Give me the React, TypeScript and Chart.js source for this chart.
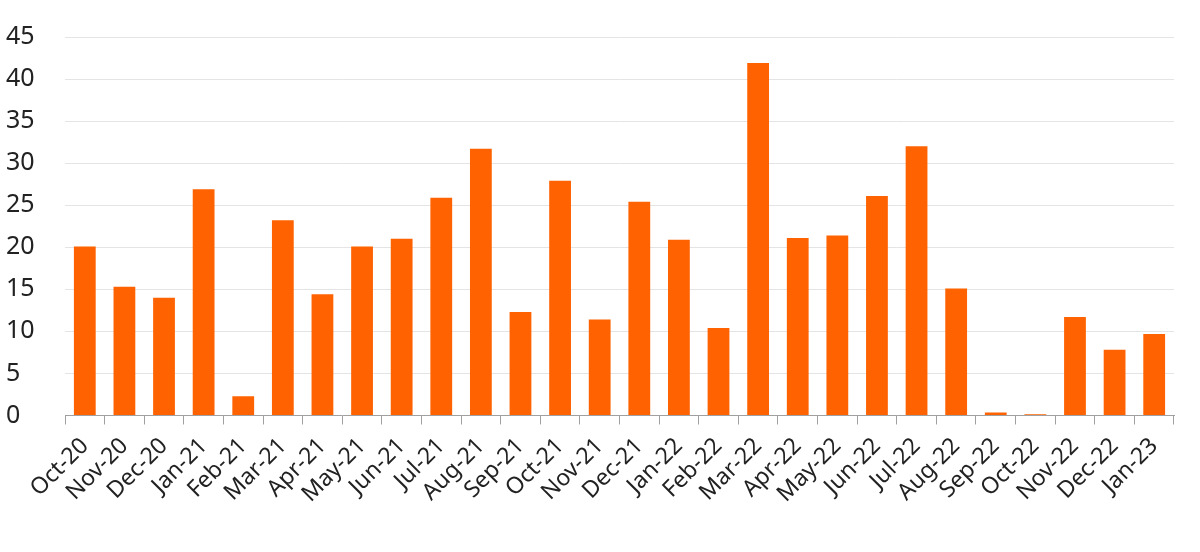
import { useEffect, useRef } from 'react';
import { Chart, registerables } from 'chart.js';

Chart.register(...registerables);

const months = [
  'Oct-20', 'Nov-20', 'Dec-20', 'Jan-21', 'Feb-21', 'Mar-21', 'Apr-21',
  'May-21', 'Jun-21', 'Jul-21', 'Aug-21', 'Sep-21', 'Oct-21', 'Nov-21',
  'Dec-21', 'Jan-22', 'Feb-22', 'Mar-22', 'Apr-22', 'May-22', 'Jun-22',
  'Jul-22', 'Aug-22', 'Sep-22', 'Oct-22', 'Nov-22', 'Dec-22', 'Jan-23',
];

const values = [
  20.1, 15.3, 14.0, 26.9, 2.3, 23.2, 14.4,
  20.1, 21.0, 25.9, 31.7, 12.3, 27.9, 11.4,
  25.4, 20.9, 10.4, 41.9, 21.1, 21.4, 26.1,
  32.0, 15.1, 0.35, 0.15, 11.7, 7.8, 9.7,
];

const yMin = 0;
const yMax = 45;
const yStep = 5;

const App = () => {
  const chartRef = useRef<HTMLCanvasElement>(null);
  const chartInstance = useRef<Chart | null>(null);

  useEffect(() => {
    if (!chartRef.current) return;
    if (chartInstance.current) chartInstance.current.destroy();

    const ctx = chartRef.current.getContext('2d');
    if (!ctx) return;

    chartInstance.current = new Chart(ctx, {
      type: 'bar',
      data: {
        labels: months,
        datasets: [{
          data: values,
          backgroundColor: '#FF6200',
          borderWidth: 0,
          barPercentage: 0.55,
          categoryPercentage: 1,
        }],
      },
      options: {
        responsive: true,
        maintainAspectRatio: false,
        animation: false,
        layout: { padding: { top: 37, right: 26, bottom: 36, left: 6 } },
        plugins: {
          legend: { display: false },
          tooltip: { enabled: false },
        },
        scales: {
          x: {
            grid: {
              display: true,
              drawOnChartArea: false,
              drawTicks: true,
              tickLength: 9,
              color: '#a0a0a0',
              offset: true,
            },
            border: { display: true, color: '#a0a0a0', width: 1 },
            ticks: {
              color: '#222',
              font: { family: 'Noto Sans', size: 23 },
              maxRotation: 45,
              minRotation: 45,
              autoSkip: false,
              padding: 8,
            },
          },
          y: {
            min: yMin,
            max: yMax,
            afterFit: (scale) => {
              scale.width = 59;
            },
            grid: {
              color: '#e4e4e4',
              drawTicks: false,
              lineWidth: 1,
            },
            border: { display: false },
            ticks: {
              stepSize: yStep,
              color: '#222',
              font: { family: 'Noto Sans', size: 25 },
              crossAlign: 'far',
              padding: 3,
            },
          },
        },
      },
    });

    return () => {
      if (chartInstance.current) {
        chartInstance.current.destroy();
        chartInstance.current = null;
      }
    };
  }, []);

  return (
    <div style={{ position: 'fixed', left: 0, top: 0, width: 1200, height: 552, background: '#fff' }}>
      <canvas ref={chartRef} />
    </div>
  );
};

export default App;
